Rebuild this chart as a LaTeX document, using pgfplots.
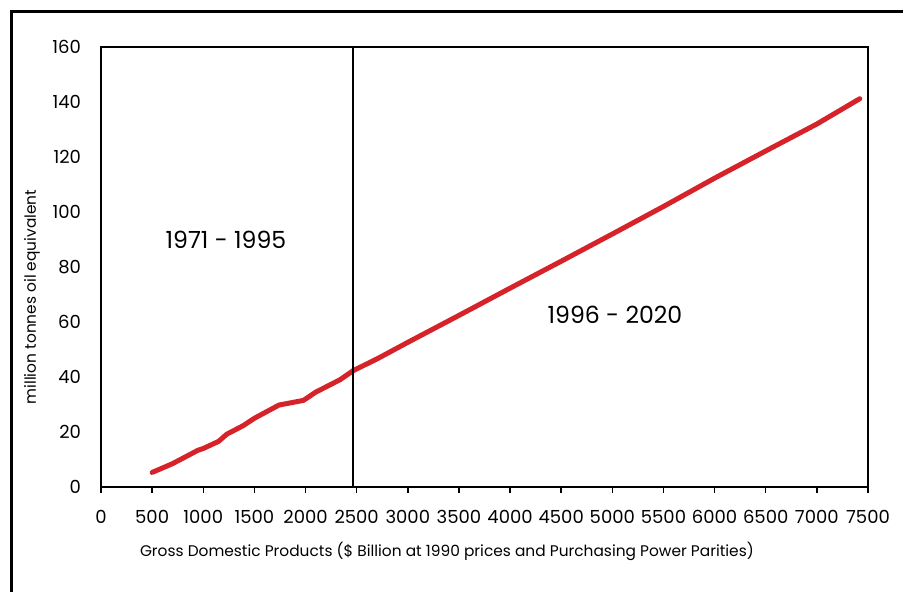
\documentclass[border=0pt]{standalone}
\usepackage{pgfplots}
\pgfplotsset{compat=1.18}
\usepackage{fontspec}
\setmainfont{Poppins}

\definecolor{linered}{RGB}{214,35,42}

\begin{document}
\begin{tikzpicture}
\useasboundingbox (0,0) rectangle (451.5pt,295.5pt);
% outer frame, only left and top edges are visible
\draw[line width=1.5pt] (5.5pt,-5pt) -- (5.5pt,290pt) -- (460pt,290pt);
\begin{axis}[
    at={(50.5pt,52pt)}, anchor=south west,
    width=383.5pt, height=220pt,
    scale only axis,
    xmin=0, xmax=7500,
    ymin=0, ymax=160,
    xtick={0,500,...,7500},
    ytick={0,20,...,160},
    xtick pos=bottom,
    tick align=outside,
    major x tick style={line width=0.75pt, black},
    major tick length=3pt,
    ytick style={draw=none},
    axis line style={line width=0.75pt},
    x tick label style={yshift=-5pt},
    y tick label style={xshift=-3.5pt},
    ticklabel style={font=\fontsize{9}{11}\selectfont},
    /pgf/number format/assume math mode=true,
    /pgf/number format/set thousands separator={},
    clip=false,
]
\addplot[linered, line width=2.5pt, line join=round, line cap=round] coordinates {
(500,5.3)(700,8.5)(950,13.4)(1000,14)(1150,16.6)(1230,19.2)(1390,22.3)(1500,25)(1740,29.8)(1980,31.5)(2100,34.5)(2337,39)(2465,42.3)(2700,46.6)(3000,52.6)(3500,62.4)(4000,72.3)(4500,82.1)(5000,92)(5500,102)(6000,112.3)(6500,122.2)(7000,132)(7420,141.2)
};
\draw[line width=1pt] (axis cs:2465,0) -- (axis cs:2465,160);
\node[font=\fontsize{11.8}{14}\selectfont] at (axis cs:1222,89.8) {1971 - 1995};
\node[font=\fontsize{11.8}{14}\selectfont] at (axis cs:5026,62.5) {1996 - 2020};
\node[font=\fontsize{7.7}{10}\selectfont] at ([yshift=-32pt]rel axis cs:0.451,0) {Gross Domestic Products (\$ Billion at 1990 prices and Purchasing Power Parities)};
\node[font=\fontsize{7.7}{10}\selectfont, rotate=90] at ([xshift=-34.5pt]rel axis cs:0,0.432) {million tonnes oil equivalent};
\end{axis}
\end{tikzpicture}
\end{document}
